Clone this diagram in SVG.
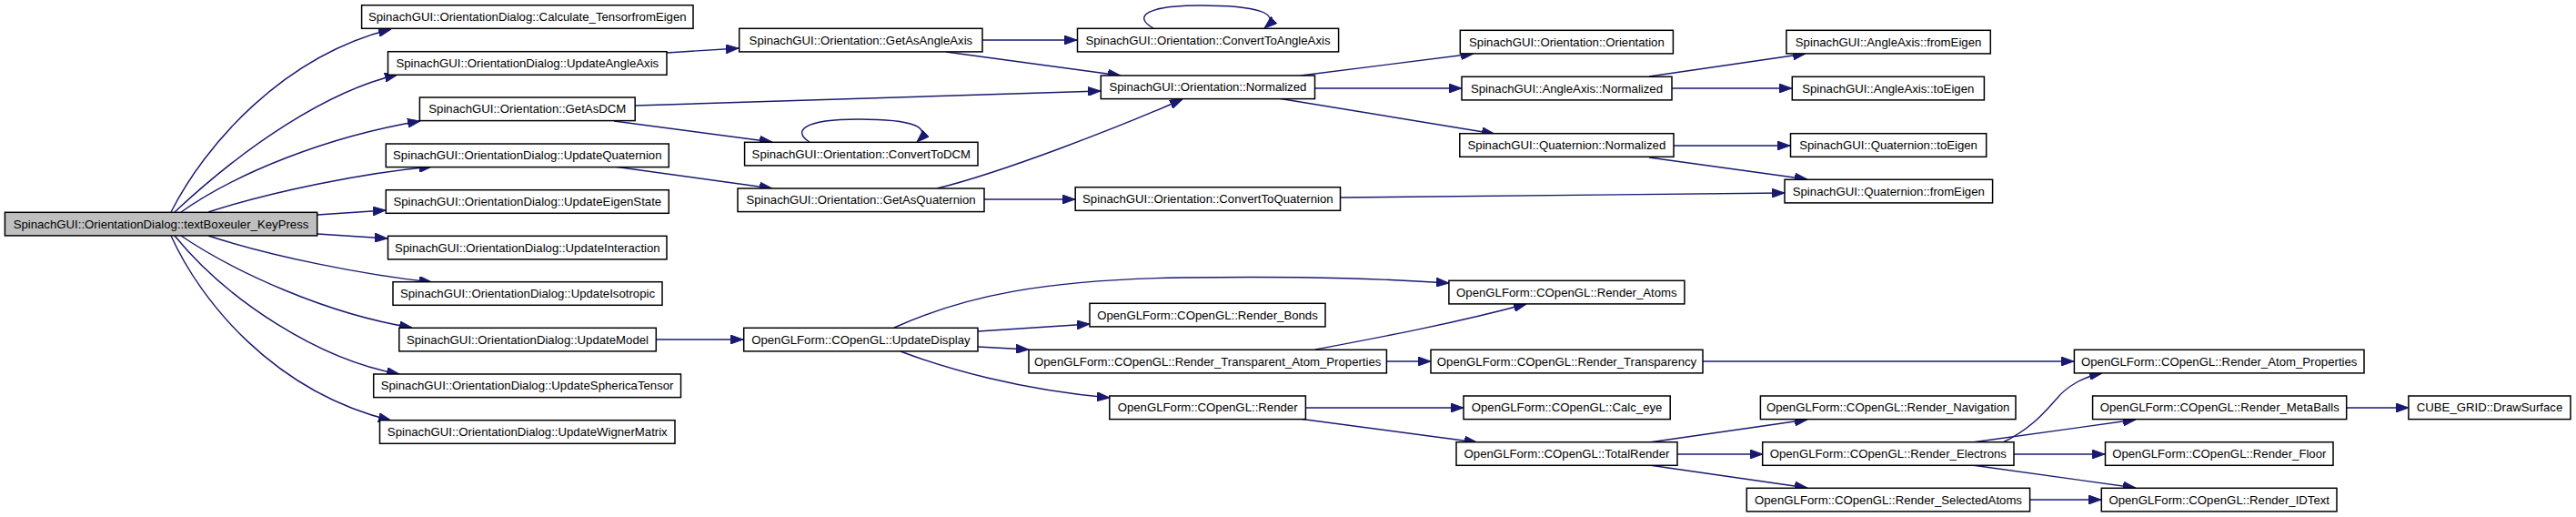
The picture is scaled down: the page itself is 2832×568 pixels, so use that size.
<svg xmlns="http://www.w3.org/2000/svg" width="2832" height="568" viewBox="0 0 2832 568">
<style>
.n rect{fill:#fff;stroke:#000;stroke-width:1.5}
.root rect{fill:#bfbfbf}
.n text{font-family:"Liberation Sans",Arial,sans-serif;font-size:13.2px;text-anchor:middle;fill:#000}
.e path{fill:none;stroke:#191970;stroke-width:1.4;marker-end:url(#ah)}
</style>
<defs>
<marker id="ah" viewBox="0 0 14 10" refX="14" refY="5" markerWidth="14" markerHeight="10" markerUnits="userSpaceOnUse" orient="auto">
<path d="M0,0 L14,5 L0,10 z" fill="#191970" stroke="#191970" stroke-width="1"/>
</marker>
</defs>
<rect width="2832" height="568" fill="#fff"/>
<g id="edges" class="e">
<path d="M188,233 C225,160 310,62 430,32"/>
<path d="M192,233 C270,160 360,100 437,82"/>
<path d="M199,233 C260,190 360,150 462,133"/>
<path d="M229,233 C300,210 400,190 475,183"/>
<path d="M349,236 L424,231"/>
<path d="M349,257 L426,262"/>
<path d="M229,259 C300,282 400,302 475,310"/>
<path d="M199,259 C260,300 360,345 453,360"/>
<path d="M192,259 C250,330 350,395 439,411"/>
<path d="M188,259 C220,330 300,430 430,462"/>
<path d="M733,58 L812,53"/>
<path d="M698,116 L1210,100"/>
<path d="M675,133 L849,156"/>
<path d="M675,183 L849,207"/>
<path d="M721,373 L817,373"/>
<path d="M1080,44 L1184,44"/>
<path d="M1040,57 L1232,83"/>
<path d="M1268,31 C1245,18 1260,6 1320,6 C1380,6 1410,14 1390,31"/>
<path d="M890,156 C872,145 880,131 944,131 C1005,131 1025,140 1008,156"/>
<path d="M1030,207 C1100,190 1230,140 1300,109"/>
<path d="M1082,219 L1182,219"/>
<path d="M1430,83 L1620,59"/>
<path d="M1446,97 L1607,97"/>
<path d="M1405,108 L1643,147"/>
<path d="M1813,84 L1985,59"/>
<path d="M1838,97 L1970,97"/>
<path d="M1840,160 L1968,160"/>
<path d="M1813,173 L1987,197"/>
<path d="M1474,217 L1962,212"/>
<path d="M983,360 C1060,325 1150,307 1300,305 C1450,303 1530,307 1593,311"/>
<path d="M1075,364 L1198,356"/>
<path d="M1075,381 L1131,384"/>
<path d="M990,386 C1040,405 1120,428 1220,437"/>
<path d="M1446,384 C1520,370 1600,355 1678,334"/>
<path d="M1524,397 L1573,397"/>
<path d="M1872,397 L2280,397"/>
<path d="M1435,448 L1609,448"/>
<path d="M1428,460 L1624,486"/>
<path d="M1813,486 L1987,461"/>
<path d="M1844,499 L1938,499"/>
<path d="M1813,511 L1987,536"/>
<path d="M2202,486 C2235,470 2250,450 2262,437 C2272,425 2290,414 2311,410"/>
<path d="M2168,486 L2348,461"/>
<path d="M2214,499 L2314,499"/>
<path d="M2168,511 L2348,536"/>
<path d="M2232,549 L2310,549"/>
<path d="M2580,448 L2648,448"/>
</g>
<g id="n1" class="n root"><rect x="5.4" y="233.3" width="343.3" height="25.6"/><text x="177" y="250.7">SpinachGUI::OrientationDialog::textBoxeuler_KeyPress</text></g>
<g id="n2" class="n"><rect x="397.6" y="5.7" width="364.4" height="25.6"/><text x="579.8" y="23.1">SpinachGUI::OrientationDialog::Calculate_TensorfromEigen</text></g>
<g id="n3" class="n"><rect x="426.5" y="56.7" width="306.5" height="25.6"/><text x="579.8" y="74.1">SpinachGUI::OrientationDialog::UpdateAngleAxis</text></g>
<g id="n4" class="n"><rect x="461.4" y="107" width="236.8" height="25.6"/><text x="579.8" y="124.4">SpinachGUI::Orientation::GetAsDCM</text></g>
<g id="n5" class="n"><rect x="424.3" y="158" width="311" height="25.6"/><text x="579.8" y="175.4">SpinachGUI::OrientationDialog::UpdateQuaternion</text></g>
<g id="n6" class="n"><rect x="424.3" y="208.7" width="311" height="25.6"/><text x="579.8" y="226.1">SpinachGUI::OrientationDialog::UpdateEigenState</text></g>
<g id="n7" class="n"><rect x="426.5" y="259.3" width="306.5" height="25.6"/><text x="579.8" y="276.7">SpinachGUI::OrientationDialog::UpdateInteraction</text></g>
<g id="n8" class="n"><rect x="432" y="309.7" width="296" height="25.6"/><text x="580" y="327.1">SpinachGUI::OrientationDialog::UpdateIsotropic</text></g>
<g id="n9" class="n"><rect x="438.8" y="360.3" width="282.5" height="25.6"/><text x="580" y="377.7">SpinachGUI::OrientationDialog::UpdateModel</text></g>
<g id="n10" class="n"><rect x="410.7" y="411" width="337.8" height="25.6"/><text x="579.6" y="428.4">SpinachGUI::OrientationDialog::UpdateSphericaTensor</text></g>
<g id="n11" class="n"><rect x="417.5" y="461.7" width="324.5" height="25.6"/><text x="579.8" y="479.1">SpinachGUI::OrientationDialog::UpdateWignerMatrix</text></g>
<g id="n12" class="n"><rect x="812.7" y="31.3" width="267.3" height="25.6"/><text x="946.4" y="48.7">SpinachGUI::Orientation::GetAsAngleAxis</text></g>
<g id="n13" class="n"><rect x="818.6" y="156.3" width="256.4" height="25.6"/><text x="946.8" y="173.7">SpinachGUI::Orientation::ConvertToDCM</text></g>
<g id="n14" class="n"><rect x="811" y="207" width="271" height="25.6"/><text x="946.5" y="224.4">SpinachGUI::Orientation::GetAsQuaternion</text></g>
<g id="n15" class="n"><rect x="817.7" y="360.3" width="257.3" height="25.6"/><text x="946.4" y="377.7">OpenGLForm::COpenGL::UpdateDisplay</text></g>
<g id="n16" class="n"><rect x="1184.5" y="31.3" width="287.1" height="25.6"/><text x="1328" y="48.7">SpinachGUI::Orientation::ConvertToAngleAxis</text></g>
<g id="n17" class="n"><rect x="1210.3" y="83" width="235.2" height="25.6"/><text x="1327.9" y="100.4">SpinachGUI::Orientation::Normalized</text></g>
<g id="n18" class="n"><rect x="1182.2" y="205.7" width="291.3" height="25.6"/><text x="1327.9" y="223.1">SpinachGUI::Orientation::ConvertToQuaternion</text></g>
<g id="n19" class="n"><rect x="1198" y="333.3" width="259" height="25.6"/><text x="1327.5" y="350.7">OpenGLForm::COpenGL::Render_Bonds</text></g>
<g id="n20" class="n"><rect x="1131" y="384.3" width="393.4" height="25.6"/><text x="1327.7" y="401.7">OpenGLForm::COpenGL::Render_Transparent_Atom_Properties</text></g>
<g id="n21" class="n"><rect x="1219.8" y="435" width="215.6" height="25.6"/><text x="1327.6" y="452.4">OpenGLForm::COpenGL::Render</text></g>
<g id="n22" class="n"><rect x="1605.3" y="33.3" width="234.1" height="25.6"/><text x="1722.4" y="50.7">SpinachGUI::Orientation::Orientation</text></g>
<g id="n23" class="n"><rect x="1607" y="84.3" width="231" height="25.6"/><text x="1722.5" y="101.7">SpinachGUI::AngleAxis::Normalized</text></g>
<g id="n24" class="n"><rect x="1604.8" y="146.7" width="235.2" height="25.6"/><text x="1722.4" y="164.1">SpinachGUI::Quaternion::Normalized</text></g>
<g id="n25" class="n"><rect x="1592.9" y="308.3" width="259" height="25.6"/><text x="1722.4" y="325.7">OpenGLForm::COpenGL::Render_Atoms</text></g>
<g id="n26" class="n"><rect x="1573" y="384.3" width="299" height="25.6"/><text x="1722.5" y="401.7">OpenGLForm::COpenGL::Render_Transparency</text></g>
<g id="n27" class="n"><rect x="1609" y="435" width="227.2" height="25.6"/><text x="1722.6" y="452.4">OpenGLForm::COpenGL::Calc_eye</text></g>
<g id="n28" class="n"><rect x="1601" y="485.7" width="243" height="25.6"/><text x="1722.5" y="503.1">OpenGLForm::COpenGL::TotalRender</text></g>
<g id="n29" class="n"><rect x="1963.9" y="33.3" width="224.4" height="25.6"/><text x="2076.1" y="50.7">SpinachGUI::AngleAxis::fromEigen</text></g>
<g id="n30" class="n"><rect x="1970.3" y="84.3" width="211.1" height="25.6"/><text x="2075.8" y="101.7">SpinachGUI::AngleAxis::toEigen</text></g>
<g id="n31" class="n"><rect x="1968.5" y="146.7" width="215.2" height="25.6"/><text x="2076.1" y="164.1">SpinachGUI::Quaternion::toEigen</text></g>
<g id="n32" class="n"><rect x="1962" y="197.3" width="228.6" height="25.6"/><text x="2076.3" y="214.7">SpinachGUI::Quaternion::fromEigen</text></g>
<g id="n33" class="n"><rect x="1935.4" y="435" width="280.6" height="25.6"/><text x="2075.7" y="452.4">OpenGLForm::COpenGL::Render_Navigation</text></g>
<g id="n34" class="n"><rect x="1937.7" y="485.7" width="276.3" height="25.6"/><text x="2075.8" y="503.1">OpenGLForm::COpenGL::Render_Electrons</text></g>
<g id="n35" class="n"><rect x="1920.3" y="536.3" width="311.3" height="25.6"/><text x="2076" y="553.7">OpenGLForm::COpenGL::Render_SelectedAtoms</text></g>
<g id="n36" class="n"><rect x="2280.4" y="384.3" width="318.6" height="25.6"/><text x="2439.7" y="401.7">OpenGLForm::COpenGL::Render_Atom_Properties</text></g>
<g id="n37" class="n"><rect x="2300.6" y="435" width="279.1" height="25.6"/><text x="2440.2" y="452.4">OpenGLForm::COpenGL::Render_MetaBalls</text></g>
<g id="n38" class="n"><rect x="2314.5" y="485.7" width="250.5" height="25.6"/><text x="2439.8" y="503.1">OpenGLForm::COpenGL::Render_Floor</text></g>
<g id="n39" class="n"><rect x="2310.3" y="536.3" width="258.7" height="25.6"/><text x="2439.7" y="553.7">OpenGLForm::COpenGL::Render_IDText</text></g>
<g id="n40" class="n"><rect x="2647.9" y="435" width="178.1" height="25.6"/><text x="2737" y="452.4">CUBE_GRID::DrawSurface</text></g>
</svg>
